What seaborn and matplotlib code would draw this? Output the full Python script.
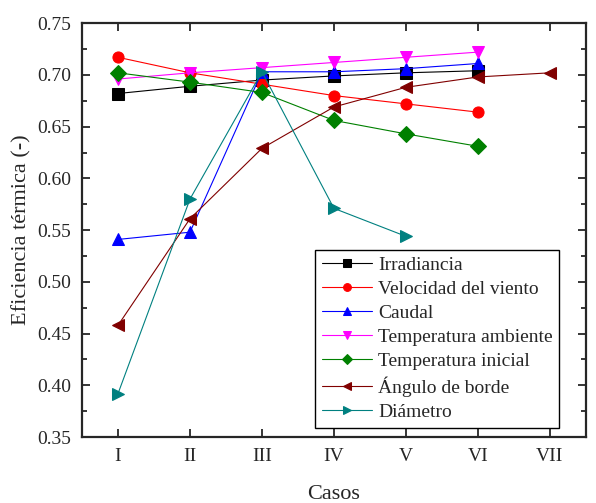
import pandas as pd
import numpy as np
import seaborn as sns
import matplotlib.pyplot as plt

# casos
casos = ['I', 'II', 'III', 'IV', 'V', 'VI', 'VII']

# eficiencia termica por serie
irradiancia = [0.682, 0.689, 0.695, 0.699, 0.702, 0.704]
velocidad = [0.717, 0.702, 0.691, 0.680, 0.672, 0.664]
caudal = [0.541, 0.548, 0.703, 0.703, 0.706, 0.711]
temp_ambiente = [0.696, 0.702, 0.707, 0.712, 0.717, 0.722]
temp_inicial = [0.702, 0.693, 0.683, 0.656, 0.643, 0.631]
angulo = [0.458, 0.561, 0.629, 0.669, 0.688, 0.698, 0.702]
diametro = [0.392, 0.580, 0.703, 0.571, 0.544]

series = [
    ('Irradiancia', irradiancia, 'black', 's'),
    ('Velocidad del viento', velocidad, 'red', 'o'),
    ('Caudal', caudal, 'blue', '^'),
    ('Temperatura ambiente', temp_ambiente, 'magenta', 'v'),
    ('Temperatura inicial', temp_inicial, '#008000', 'D'),
    ('Ángulo de borde', angulo, '#800000', '<'),
    ('Diámetro', diametro, '#008080', '>'),
]

sns.set_style('ticks')
plt.rcParams['font.family'] = ['Liberation Serif', 'DejaVu Serif']

fig, ax = plt.subplots(figsize=(5.96, 5.03), dpi=100)
fig.subplots_adjust(left=0.1376, right=0.983, top=0.954, bottom=0.131)

for name, vals, color, mk in series:
    pos = np.arange(1, len(vals) + 1)
    sns.lineplot(x=pos, y=vals, ax=ax, color=color, marker=mk, markersize=8,
                 markeredgecolor=color, linewidth=0.8, label=name)

ax.set_xlim(0.5, 7.5)
ax.set_ylim(0.35, 0.75)
ax.set_xticks(np.arange(1, 8))
ax.set_xticklabels(casos)
ax.set_yticks(np.arange(0.35, 0.751, 0.05))
ax.set_yticklabels(['%.2f' % v for v in np.arange(0.35, 0.751, 0.05)])
ax.set_yticks(np.arange(0.375, 0.75, 0.05), minor=True)

ax.tick_params(axis='both', which='both', direction='in', top=True, right=True,
               labelsize=14, width=1.3)
ax.tick_params(axis='both', which='major', length=6, pad=8)
ax.tick_params(axis='y', which='minor', length=3.5)
ax.tick_params(axis='x', which='minor', bottom=False, top=False)
for s in ax.spines.values():
    s.set_linewidth(1.6)
    s.set_visible(True)

ax.set_xlabel('Casos', fontsize=16, labelpad=14)
ax.set_ylabel('Eficiencia térmica (-)', fontsize=16, labelpad=4)

leg = ax.legend(loc='lower left', bbox_to_anchor=(0.462, 0.022), fontsize=14,
                frameon=True, fancybox=False, edgecolor='black', framealpha=1,
                borderaxespad=0, handlelength=2.6, labelspacing=0.33,
                handletextpad=0.3, borderpad=0.35, markerscale=0.7)
leg.get_frame().set_linewidth(1.0)

plt.savefig('out.png', dpi=100)
